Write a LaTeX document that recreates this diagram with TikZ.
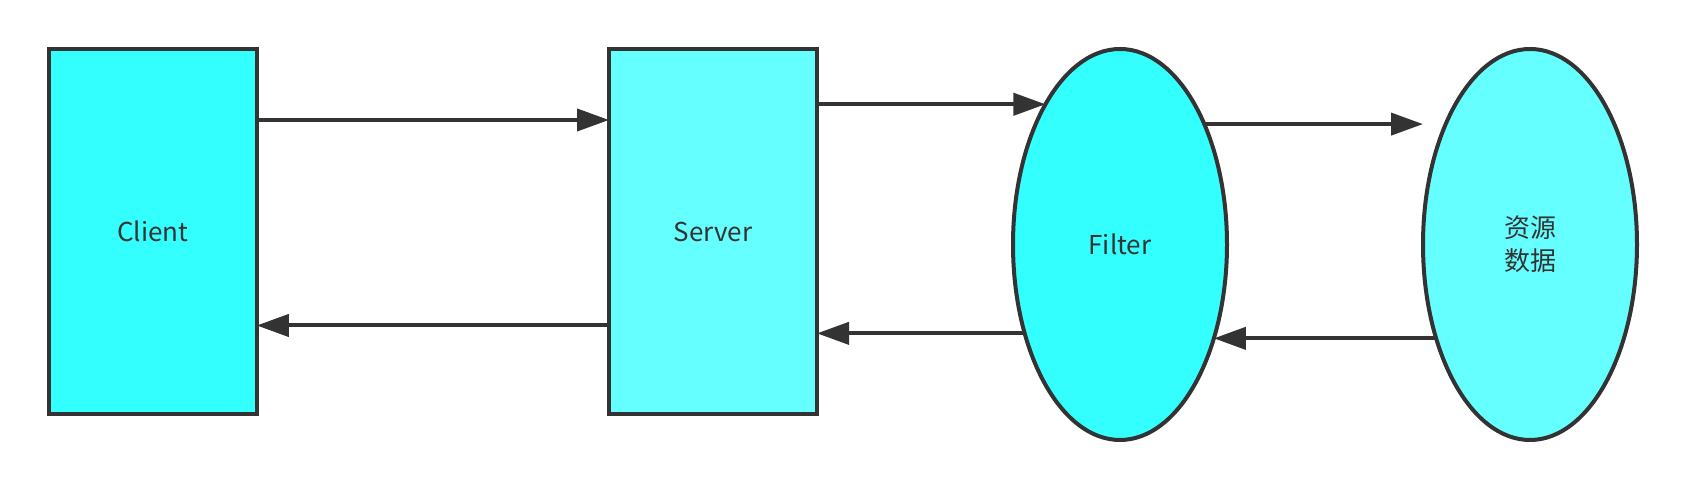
\documentclass[tikz,border=0pt]{standalone}
\usepackage{fontspec}
\setmainfont{Noto Sans CJK SC}
\usetikzlibrary{arrows.meta,shapes.geometric}
\definecolor{cyanA}{HTML}{33FFFF}
\definecolor{cyanB}{HTML}{66FFFF}
\definecolor{ink}{HTML}{333333}
\tikzset{
  boxnode/.style={draw=ink,line width=2pt,rectangle,minimum width=104pt,minimum height=182.5pt,
    text=ink,font=\fontsize{13pt}{16.5pt}\selectfont,align=center,inner sep=0pt,outer sep=0pt},
  ovalnode/.style={draw=ink,line width=2pt,ellipse,minimum width=107pt,minimum height=195.5pt,
    text=ink,font=\fontsize{13pt}{16.5pt}\selectfont,align=center,inner sep=0pt,outer sep=0pt},
  flow/.style={draw=ink,line width=2pt,-{Triangle[length=16pt,width=11pt]}}
}

\begin{document}
\begin{tikzpicture}[x=0.5pt,y=-0.5pt]
    \useasboundingbox (0,0) rectangle (1688,490);
    \node[boxnode,fill=cyanA] (cli) at (152.75,231.5) {Client};
    \node[boxnode,fill=cyanB] (srv) at (713,231.5) {Server};
    \node[ovalnode,fill=cyanA] (fil) at (1120,244.5) {Filter};
    \node[ovalnode,fill=cyanB] (res) at (1530,244.5) {资源\\数据};
    \coordinate (resin) at (res.west |- fil.55);
    % requests
    \draw[flow] ([yshift=55.75pt]cli.east) -- ([yshift=55.75pt]srv.west);
    \draw[flow] (srv.east |- fil.118) -- (fil.118);
    \draw[flow] (fil.55) -- (resin);
    % responses
    \draw[flow] (res.225) -- (fil.315);
    \draw[flow] (fil.223) -- (srv.east |- fil.223);
    \draw[flow] ([yshift=-47pt]srv.west) -- ([yshift=-47pt]cli.east);
  \end{tikzpicture}
\end{document}
